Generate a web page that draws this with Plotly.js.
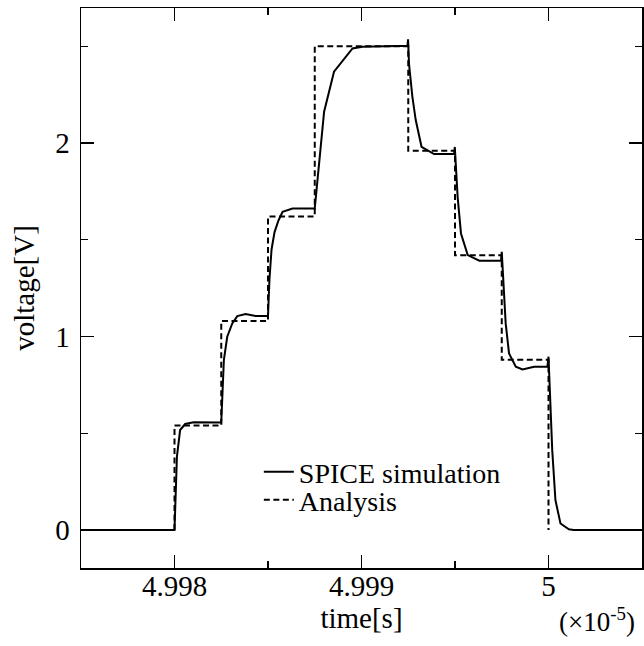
<!DOCTYPE html>
<html>
<head>
<meta charset="utf-8">
<script src="https://cdn.plot.ly/plotly-3.0.1.min.js"></script>
<style>html,body{margin:0;padding:0;background:#fff;}</style>
</head>
<body>
<div id="chart" style="width:644px;height:646px;"></div>
<script>
// time values in units of 1e-5 s (axis shows x10^-5)
const spiceTime = [4.9975, 4.998000, 4.998013, 4.998030, 4.998057, 4.998102, 4.998246,
  4.998250, 4.998264, 4.998282, 4.998309, 4.998336, 4.998380, 4.998434, 4.998496,
  4.998500, 4.998508, 4.998519, 4.998535, 4.998556, 4.998578, 4.998631, 4.998749,
  4.998750, 4.998800, 4.998853, 4.998952, 4.999005, 4.999246, 4.999249,
  4.999254, 4.999272, 4.999290, 4.999321, 4.999388, 4.999495, 4.999499,
  4.999505, 4.999514, 4.999532, 4.999568, 4.999630, 4.999746, 4.999750,
  4.999762, 4.999771, 4.999789, 4.999825, 4.999861, 4.999923, 4.999994, 5.000000,
  5.000020, 5.000037, 5.000064, 5.000109, 5.000134, 5.0005];
const spiceVolt = [0, 0, 0.38, 0.517, 0.548, 0.557, 0.556,
  0.556, 0.879, 0.999, 1.068, 1.106, 1.116, 1.106, 1.106,
  1.106, 1.30, 1.45, 1.54, 1.60, 1.645, 1.662, 1.662,
  1.662, 2.162, 2.369, 2.489, 2.498, 2.503, 2.536,
  2.41, 2.24, 2.119, 1.981, 1.943, 1.943, 1.98,
  1.895, 1.722, 1.533, 1.421, 1.392, 1.392, 1.438,
  1.240, 1.068, 0.913, 0.844, 0.830, 0.844, 0.844, 0.896,
  0.413, 0.155, 0.034, 0.004, 0, 0];

const analysisTime = [4.998, 4.998, 4.99825, 4.9985, 4.99875, 4.99925, 4.9995, 4.99975, 5.0];
const analysisVolt = [0, 0.54, 1.08, 1.62, 2.5, 1.96, 1.42, 0.88, 0];

const xTickVals = [4.998, 4.999, 5];
const xTickText = ['4.998', '4.999', '5'];
const yTickVals = [0, 1, 2];
const yTickText = ['0', '1', '2'];

const FONT = 'Liberation Serif, Times New Roman, serif';

const traces = [
  {x: spiceTime, y: spiceVolt, type: 'scatter', mode: 'lines', name: 'SPICE simulation',
   legend: 'legend', line: {color: '#000', width: 2}},
  {x: analysisTime, y: analysisVolt, type: 'scatter', mode: 'lines', name: 'Analysis',
   legend: 'legend2', line: {color: '#000', width: 2, dash: '6px,3.5px', shape: 'hv'}}
];

const axisCommon = {
  showline: true, linecolor: '#000', linewidth: 1.5, mirror: 'ticks',
  ticks: 'inside', ticklen: 13, tickwidth: 1.3, tickcolor: '#000',
  showgrid: false, zeroline: false, tickmode: 'array',
  tickfont: {family: FONT, size: 29, color: '#000'}
};

const legendCommon = {xanchor: 'left', yanchor: 'top', bgcolor: 'rgba(0,0,0,0)',
  font: {family: FONT, size: 28, color: '#000'}};

const layout = {
  width: 644, height: 646,
  margin: {l: 81, r: 2, t: 8, b: 78},
  paper_bgcolor: '#fff', plot_bgcolor: '#fff',
  font: {family: FONT, color: '#000', size: 28},
  showlegend: true,
  legend: Object.assign({}, legendCommon, {x: 0.317, y: 0.216}),
  legend2: Object.assign({}, legendCommon, {x: 0.317, y: 0.166}),
  xaxis: Object.assign({}, axisCommon, {
    range: [4.9975, 5.0005], tickvals: xTickVals, ticktext: xTickText,
    ticklabelstandoff: -8,
    minor: {dtick: 0.0005, tick0: 4.9975, ticks: 'inside', ticklen: 7, tickwidth: 1.3, tickcolor: '#000', showgrid: false},
    title: {text: 'time[s]', font: {family: FONT, size: 29, color: '#000'}, standoff: 0}
  }),
  yaxis: Object.assign({}, axisCommon, {
    range: [-0.196, 2.698], tickvals: yTickVals, ticktext: yTickText,
    ticklabelstandoff: 4,
    minor: {dtick: 0.5, tick0: 0, ticks: 'inside', ticklen: 7, tickwidth: 1.3, tickcolor: '#000', showgrid: false},
    title: {text: 'voltage[V]', font: {family: FONT, size: 29, color: '#000'}, standoff: 12}
  }),
  annotations: [
    {xref: 'paper', yref: 'paper', x: 0.991, y: -0.093, xanchor: 'right', yanchor: 'middle',
     text: '(×10<sup>-5</sup>)', showarrow: false, font: {family: FONT, size: 27, color: '#000'}}
  ]
};

Plotly.newPlot('chart', traces, layout, {displayModeBar: false, staticPlot: true});
</script>
</body>
</html>
